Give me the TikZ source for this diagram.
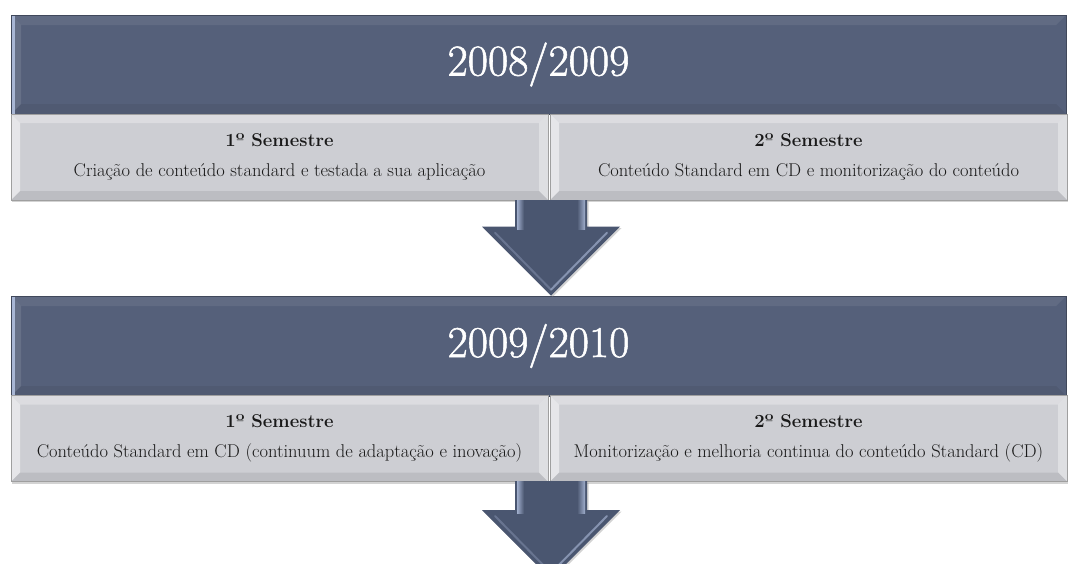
\documentclass[tikz,border=0pt]{standalone}
\usepackage{fontspec}
\usetikzlibrary{calc,shadows}

\newfontfamily\yearfont{Latin Modern Roman}[FakeBold=1.2]

\definecolor{hdrblue}{RGB}{85,96,122}
\definecolor{hdredge}{RGB}{168,182,212}
\definecolor{semgray}{RGB}{205,206,211}
\definecolor{arrowblue}{RGB}{74,86,112}
\definecolor{arrowlight}{RGB}{160,174,204}
\definecolor{inkdark}{RGB}{25,25,25}

% soft bevel drawn inside a node, behind its text
\newcommand\softbevel[5]{%
  \fill[white,opacity=#2] (path picture bounding box.north west)
    -- ($(path picture bounding box.north west)+(#1,#1)$)
    -- ($(path picture bounding box.south west)+(#1,-#1)$)
    -- (path picture bounding box.south west) -- cycle;
  \fill[white,opacity=#3] (path picture bounding box.north west)
    -- (path picture bounding box.north east)
    -- ($(path picture bounding box.north east)+(-#1,#1)$)
    -- ($(path picture bounding box.north west)+(#1,#1)$) -- cycle;
  \fill[white,opacity=#4] (path picture bounding box.north east)
    -- (path picture bounding box.south east)
    -- ($(path picture bounding box.south east)+(-#1,-#1)$)
    -- ($(path picture bounding box.north east)+(-#1,#1)$) -- cycle;
  \fill[black,opacity=#5] (path picture bounding box.south west)
    -- (path picture bounding box.south east)
    -- ($(path picture bounding box.south east)+(-#1,-#1)$)
    -- ($(path picture bounding box.south west)+(#1,-#1)$) -- cycle;
}

% block arrow pointing down: #1 top centre of the shaft, #2 tip
\newcommand\blockarrow[2]{%
  \fill[arrowblue, drop shadow={shadow xshift=1.5pt, shadow yshift=-1.5pt, opacity=0.35}]
    ($(#1)+(-36,0)$) -- ($(#1)+(36,0)$) -- ($(#2)+(36,-69)$) -- ($(#2)+(69,-69)$)
    -- (#2) -- ($(#2)+(-69,-69)$) -- ($(#2)+(-36,-69)$) -- cycle;
  \shade[left color=arrowlight, right color=arrowblue]
    ($(#1)+(-34,0)$) rectangle ($(#2)+(-27,-66)$);
  \shade[left color=arrowblue, right color=arrowlight]
    ($(#1)+(26,0)$) rectangle ($(#2)+(34,-66)$);
  \draw[arrowlight, opacity=0.7, line width=2pt, line cap=round]
    ($(#2)+(56,-63)$) -- ($(#2)+(0,-6)$);
  \draw[arrowlight, opacity=0.35, line width=2pt, line cap=round]
    ($(#2)+(-56,-63)$) -- ($(#2)+(0,-6)$);
}

\tikzset{
  header/.style={rectangle, fill=hdrblue, draw=hdrblue!75!black, line width=0.6pt,
    text=white, inner sep=0pt,
    font=\yearfont\fontsize{44}{44}\selectfont,
    path picture={\softbevel{10}{0.10}{0.07}{0.0}{0.06}
      \fill[hdredge] (path picture bounding box.north west) rectangle
        ($(path picture bounding box.south west)+(4,0)$);}},
  semester/.style={rectangle, fill=semgray, draw=gray!75, line width=0.6pt,
    text=inkdark, inner sep=0pt, align=center, minimum height=86,
    font=\fontsize{18.5}{30}\selectfont,
    drop shadow={shadow xshift=1pt, shadow yshift=-2pt, opacity=0.35},
    path picture={\softbevel{9}{0.50}{0.30}{0.35}{0.08}}},
}

\begin{document}
\begin{tikzpicture}[x=1pt, y=-1pt]
  \useasboundingbox (0,0) rectangle (1075,563);
  \clip (0,0) rectangle (1075,563);

  % first school year
  \node[header, minimum width=1055, minimum height=99] (h1) at (538.5,64.5) {2008/2009};
  \node[semester, minimum width=537] (s1a) at (279.5,157)
    {\textbf{1º Semestre}\\Criação de conteúdo standard  e testada a  sua aplicação};
  \node[semester, minimum width=517] (s1b) at (808.5,157)
    {\textbf{2º Semestre}\\Conteúdo Standard  em CD e monitorização do conteúdo};

  % second school year
  \node[header, minimum width=1055, minimum height=100] (h2) at (538.5,346) {2009/2010};
  \coordinate (a1) at (551,200);
  \coordinate (t1) at (a1 |- h2.north);
  \blockarrow{a1}{t1}
  \node[semester, minimum width=537] (s2a) at (279.5,438.5)
    {\textbf{1º Semestre}\\Conteúdo Standard em CD  (continuum de adaptação e inovação)};
  \node[semester, minimum width=517] (s2b) at (808.5,438.5)
    {\textbf{2º Semestre}\\Monitorização  e melhoria continua do conteúdo Standard (CD)};

  % arrow leading on past the second year
  \coordinate (a2) at (551,481);
  \coordinate (t2) at ($(a2)+(0,98)$);
  \blockarrow{a2}{t2}
\end{tikzpicture}
\end{document}
